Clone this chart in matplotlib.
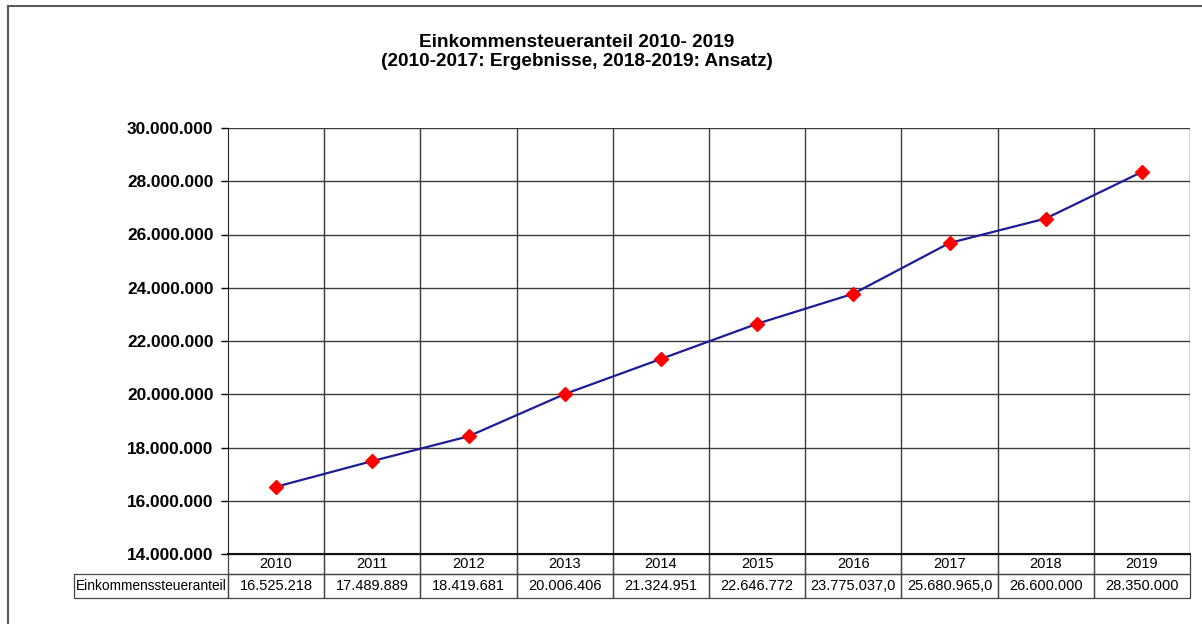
import matplotlib
matplotlib.use("Agg")
import matplotlib.pyplot as plt
from matplotlib.lines import Line2D
from matplotlib.patches import Rectangle
from matplotlib.ticker import FuncFormatter

years = [2010, 2011, 2012, 2013, 2014, 2015, 2016, 2017, 2018, 2019]
anteil = [16525218, 17489889, 18419681, 20006406, 21324951,
          22646772, 23775037.0, 25680965.0, 26600000, 28350000]
decimals = [0, 0, 0, 0, 0, 0, 1, 1, 0, 0]
row_label = "Einkommenssteueranteil"
title = "Einkommensteueranteil 2010- 2019\n(2010-2017: Ergebnisse, 2018-2019: Ansatz)"


def de_fmt(v, nd=0):
    s = f"{v:,.{nd}f}"
    return s.replace(",", "X").replace(".", ",").replace("X", ".")


plt.rcParams['font.family'] = ['Liberation Sans', 'DejaVu Sans']

W, H = 1202, 624
fig = plt.figure(figsize=(W / 100, H / 100), dpi=100)

# plot area in pixels
x0, x1, ytop, ybot = 228, 1190, 128, 554
pw, ph = x1 - x0, ybot - ytop
ax = fig.add_axes([x0 / W, 1 - ybot / H, pw / W, ph / H])

pos = list(range(len(years)))
ax.plot(pos, anteil, color="#1c1c96", lw=1.6, zorder=3)
ax.plot(pos, anteil, ls="none", marker="D", ms=7, color="#ff0000",
        mec="#ff0000", zorder=4)

ax.set_xlim(-0.5, len(years) - 0.5)
ax.set_ylim(14000000, 30000000)
ax.set_yticks(range(14000000, 30000001, 2000000))
ax.yaxis.set_major_formatter(FuncFormatter(lambda v, p: de_fmt(v)))
ax.tick_params(axis="y", labelsize=12.4, length=5, width=1, direction="out", pad=5.5)
for lab in ax.get_yticklabels():
    lab.set_fontweight("bold")
ax.set_xticks([])

# grid: horizontal at ticks, vertical at category boundaries
for v in range(14000000, 30000001, 2000000):
    ax.axhline(v, color="#3a3a3a", lw=1.0, zorder=1)
for i in range(len(years)):
    ax.axvline(i + 0.5, color="#3a3a3a", lw=1.0, zorder=1)

for s in ["top", "right"]:
    ax.spines[s].set_visible(False)
ax.spines["left"].set_color("#222222")
ax.spines["bottom"].set_color("#111111")
ax.spines["bottom"].set_linewidth(1.5)

# data table below the plot, drawn in axes fractions
n = len(years)
col_w = 1.0 / n
lab_w = (x0 - 74) / pw
h_year = 20 / ph
h_val = 24 / ph
edge = dict(fill=False, ec="#444444", lw=0.9, transform=ax.transAxes, clip_on=False)
txt = dict(ha="center", va="center", fontsize=10.5, transform=ax.transAxes)
for i, (yr, v, d) in enumerate(zip(years, anteil, decimals)):
    left = i * col_w
    ax.add_patch(Rectangle((left, -h_year), col_w, h_year, **edge))
    ax.add_patch(Rectangle((left, -h_year - h_val), col_w, h_val, **edge))
    ax.text(left + col_w / 2, -h_year / 2, str(yr), **txt)
    ax.text(left + col_w / 2, -h_year - h_val / 2, de_fmt(v, d), **txt)
ax.add_patch(Rectangle((-lab_w, -h_year - h_val), lab_w, h_val, **edge))
ax.text(-lab_w / 2, -h_year - h_val / 2, row_label,
        **{**txt, "fontsize": 9.9})

fig.text(577 / W, 1 - 52 / H, title, ha="center", va="center",
         fontsize=13.7, fontweight="bold", linespacing=1.1)

# outer frame (top and left visible)
fig.add_artist(Line2D([8 / W, 1], [1 - 6 / H, 1 - 6 / H], color="#5a5a5a", lw=1.5))
fig.add_artist(Line2D([8 / W, 8 / W], [0, 1 - 6 / H], color="#5a5a5a", lw=1.5))

fig.savefig("out.png", dpi=100)
